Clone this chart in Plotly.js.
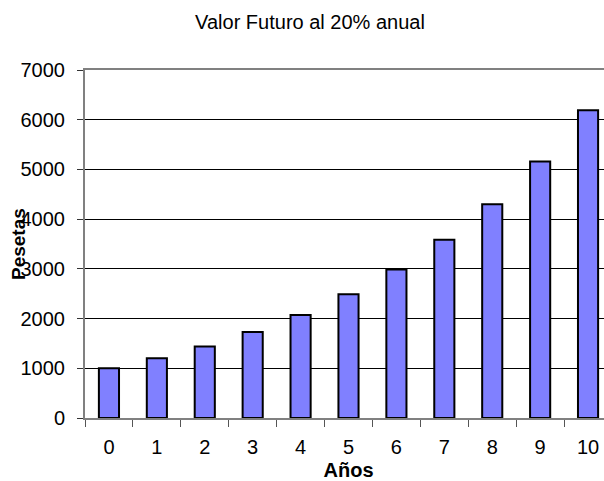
<!DOCTYPE html>
<html>
<head>
<meta charset="utf-8">
<script src="https://cdn.plot.ly/plotly-3.0.1.min.js"></script>
<style>
  html, body { margin: 0; padding: 0; overflow: hidden; background: #fff; }
  #chart { width: 620px; height: 481px; }
</style>
</head>
<body>
<div id="chart"></div>
<script>
// Future value of 1000 pesetas at 20% per year
const years = ['0', '1', '2', '3', '4', '5', '6', '7', '8', '9', '10'];
const pesetas = [1000, 1200, 1440, 1728, 2074, 2488, 2986, 3583, 4300, 5160, 6192];
const yTicks = [0, 1000, 2000, 3000, 4000, 5000, 6000, 7000];

const font = 'Liberation Sans, Arial, sans-serif';
const fs = 20;

const trace = {
  type: 'bar',
  x: years,
  y: pesetas,
  marker: { color: '#8080FF', line: { color: '#000000', width: 2 } },
  hoverinfo: 'x+y'
};

const layout = {
  width: 620,
  height: 481,
  margin: { l: 85, r: 8, t: 70, b: 63 },
  paper_bgcolor: '#ffffff',
  plot_bgcolor: '#ffffff',
  showlegend: false,
  bargap: 0.58,
  font: { family: font, color: '#000000', size: fs },
  title: {
    text: 'Valor Futuro al 20% anual',
    font: { family: font, size: fs, color: '#000000' },
    x: 0.5, xref: 'container', xanchor: 'center',
    y: 1 - 22 / 481, yref: 'container', yanchor: 'middle'
  },
  xaxis: {
    type: 'category',
    tickson: 'boundaries',
    ticks: 'outside',
    ticklen: 7,
    tickwidth: 1,
    tickcolor: '#555555',
    showline: true,
    linecolor: '#808080',
    linewidth: 2,
    mirror: true,
    showgrid: false,
    tickfont: { family: font, size: fs },
    ticklabelstandoff: 10,
    title: { text: 'Años', font: { family: font, size: fs, weight: 'bold' }, standoff: 9 },
    automargin: false
  },
  yaxis: {
    range: [0, 7000],
    tickvals: yTicks,
    ticktext: yTicks.map(String),
    ticks: 'outside',
    ticklen: 6,
    tickwidth: 1,
    tickcolor: '#333333',
    showline: true,
    linecolor: '#808080',
    linewidth: 2,
    showgrid: true,
    gridcolor: '#000000',
    gridwidth: 1,
    zeroline: false,
    tickfont: { family: font, size: fs },
    ticklabelstandoff: 8,
    automargin: false
  },
  annotations: [{
    text: '<b>Pesetas</b>',
    textangle: -90,
    xref: 'paper', yref: 'paper',
    x: 0, y: 0.5,
    xshift: -67,
    xanchor: 'center', yanchor: 'middle',
    showarrow: false,
    font: { family: font, size: 19, color: '#000000' }
  }]
};

Plotly.newPlot('chart', [trace], layout, { displayModeBar: false, staticPlot: true });
</script>
</body>
</html>
